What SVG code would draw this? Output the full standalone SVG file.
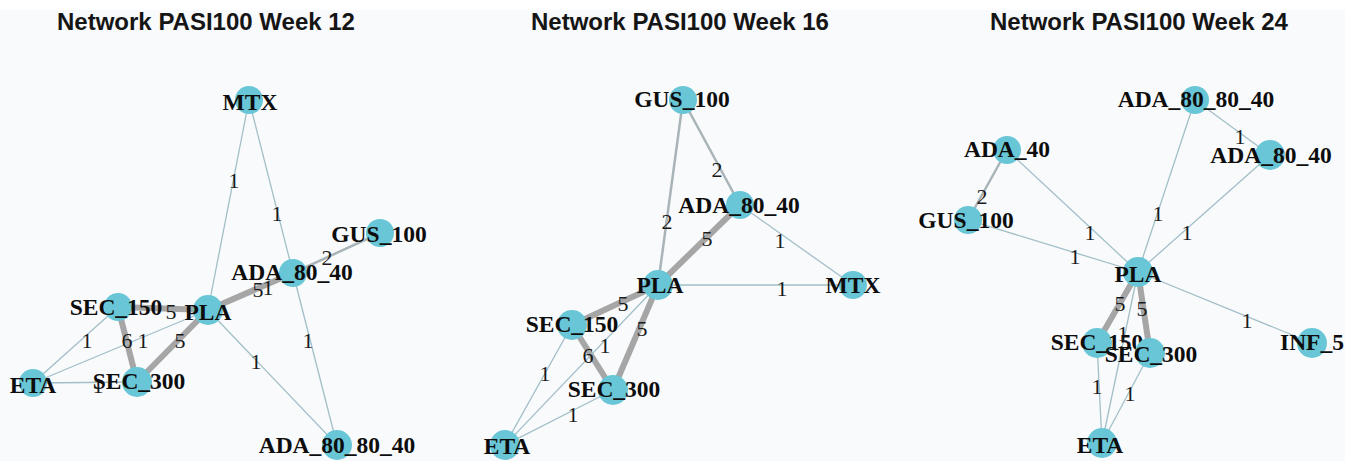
<svg xmlns="http://www.w3.org/2000/svg" width="1350" height="461" viewBox="0 0 1350 461">
<style>
.bg{fill:#f9fafc}
.t{font-family:"Liberation Sans",Arial,sans-serif;font-weight:bold;font-size:24px;fill:#151515;text-anchor:middle}
.n{fill:#69c6d6}
.nl{font-family:"Liberation Serif","Times New Roman",serif;font-weight:bold;font-size:23.5px;fill:#0d0d0d;text-anchor:middle}
.el{font-family:"Liberation Serif","Times New Roman",serif;font-size:22px;fill:#1a1a1a;text-anchor:middle}
.e1{stroke:#a2bfc8;stroke-width:1.3;fill:none}
.e2{stroke:#a9b4b8;stroke-width:2.5;fill:none}
.e5{stroke:#a6a6a6;stroke-width:6;fill:none}
</style>
<rect class="bg" x="0" y="10" width="1345" height="451"/>
<text class="t" x="206" y="30">Network PASI100 Week 12</text>
<text class="t" x="680" y="30">Network PASI100 Week 16</text>
<text class="t" x="1139" y="30">Network PASI100 Week 24</text>

<!-- connectors -->
<g id="connectors">
  <!-- week 12 -->
  <line class="e1" x1="249" y1="100" x2="208" y2="310"/>
  <line class="e1" x1="249" y1="100" x2="293" y2="273"/>
  <line class="e1" x1="293" y1="273" x2="337" y2="445"/>
  <line class="e1" x1="208" y1="310" x2="337" y2="445"/>
  <line class="e2" x1="293" y1="273" x2="380" y2="233"/>
  <line class="e5" x1="208" y1="310" x2="293" y2="273"/>
  <line class="e5" x1="118" y1="307" x2="208" y2="310"/>
  <line class="e5" x1="118" y1="307" x2="137" y2="382"/>
  <line class="e5" x1="208" y1="310" x2="137" y2="382"/>
  <line class="e1" x1="33" y1="383" x2="118" y2="307"/>
  <line class="e1" x1="33" y1="383" x2="208" y2="310"/>
  <line class="e1" x1="33" y1="383" x2="137" y2="382"/>
  <!-- week 16 -->
  <line class="e2" x1="683" y1="100" x2="658" y2="285"/>
  <line class="e2" x1="683" y1="100" x2="740" y2="205"/>
  <line class="e5" x1="740" y1="205" x2="658" y2="285"/>
  <line class="e1" x1="740" y1="205" x2="853" y2="285"/>
  <line class="e1" x1="658" y1="285" x2="853" y2="285"/>
  <line class="e5" x1="658" y1="285" x2="572" y2="325"/>
  <line class="e5" x1="658" y1="285" x2="613" y2="390"/>
  <line class="e5" x1="572" y1="325" x2="613" y2="390"/>
  <line class="e1" x1="658" y1="285" x2="505" y2="445"/>
  <line class="e1" x1="572" y1="325" x2="505" y2="445"/>
  <line class="e1" x1="613" y1="390" x2="505" y2="445"/>
  <!-- week 24 -->
  <line class="e1" x1="1195" y1="100" x2="1270" y2="155"/>
  <line class="e1" x1="1195" y1="100" x2="1138" y2="272"/>
  <line class="e1" x1="1270" y1="155" x2="1138" y2="272"/>
  <line class="e2" x1="1007" y1="150" x2="968" y2="220"/>
  <line class="e1" x1="1007" y1="150" x2="1138" y2="272"/>
  <line class="e1" x1="968" y1="220" x2="1138" y2="272"/>
  <line class="e1" x1="1138" y1="272" x2="1312" y2="343"/>
  <line class="e5" x1="1138" y1="272" x2="1097" y2="343"/>
  <line class="e5" x1="1138" y1="272" x2="1150" y2="353"/>
  <line class="e1" x1="1138" y1="272" x2="1102" y2="443"/>
  <line class="e1" x1="1097" y1="343" x2="1102" y2="443"/>
  <line class="e1" x1="1150" y1="353" x2="1102" y2="443"/>
</g>

<g id="edge-labels">
  <text class="el" x="234" y="188">1</text>
  <text class="el" x="277" y="221">1</text>
  <text class="el" x="308" y="348">1</text>
  <text class="el" x="256" y="369">1</text>
  <text class="el" x="327" y="265">2</text>
  <text class="el" x="258" y="297">5</text>
  <text class="el" x="268" y="295">1</text>
  <text class="el" x="171" y="319">5</text>
  <text class="el" x="87" y="348">1</text>
  <text class="el" x="127" y="348">6</text>
  <text class="el" x="143" y="348">1</text>
  <text class="el" x="180" y="348">5</text>
  <text class="el" x="98" y="393">1</text>

  <text class="el" x="667" y="229">2</text>
  <text class="el" x="717" y="177">2</text>
  <text class="el" x="707" y="246">5</text>
  <text class="el" x="780" y="248">1</text>
  <text class="el" x="782" y="296">1</text>
  <text class="el" x="623" y="311">5</text>
  <text class="el" x="642" y="336">5</text>
  <text class="el" x="588" y="363">6</text>
  <text class="el" x="605" y="353">1</text>
  <text class="el" x="545" y="381">1</text>
  <text class="el" x="573" y="422">1</text>

  <text class="el" x="1240" y="144">1</text>
  <text class="el" x="1158" y="221">1</text>
  <text class="el" x="1187" y="240">1</text>
  <text class="el" x="982" y="204">2</text>
  <text class="el" x="1090" y="240">1</text>
  <text class="el" x="1075" y="264">1</text>
  <text class="el" x="1247" y="328">1</text>
  <text class="el" x="1120" y="311">5</text>
  <text class="el" x="1142" y="316">5</text>
  <text class="el" x="1123" y="341">1</text>
  <text class="el" x="1097" y="394">1</text>
  <text class="el" x="1130" y="401">1</text>
</g>

<!-- week 12 nodes -->
<g id="w12-MTX"><circle class="n" cx="249" cy="100" r="14"/><text class="nl" x="250" y="110">MTX</text></g>
<g id="w12-GUS_100"><circle class="n" cx="380" cy="233" r="14"/><text class="nl" x="379" y="242">GUS_100</text></g>
<g id="w12-ADA_80_40"><circle class="n" cx="293" cy="273" r="14"/><text class="nl" x="292" y="280">ADA_80_40</text></g>
<g id="w12-PLA"><circle class="n" cx="208" cy="310" r="15"/><text class="nl" x="208" y="320">PLA</text></g>
<g id="w12-SEC_150"><circle class="n" cx="118" cy="307" r="14"/><text class="nl" x="116" y="315">SEC_150</text></g>
<g id="w12-ETA"><circle class="n" cx="33" cy="383" r="14"/><text class="nl" x="33" y="393">ETA</text></g>
<g id="w12-SEC_300"><circle class="n" cx="137" cy="382" r="15"/><text class="nl" x="139" y="389">SEC_300</text></g>
<g id="w12-ADA_80_80_40"><circle class="n" cx="337" cy="445" r="15"/><text class="nl" x="337" y="453">ADA_80_80_40</text></g>

<!-- week 16 nodes -->
<g id="w16-GUS_100"><circle class="n" cx="683" cy="100" r="14"/><text class="nl" x="682" y="107">GUS_100</text></g>
<g id="w16-ADA_80_40"><circle class="n" cx="740" cy="205" r="14"/><text class="nl" x="739" y="213">ADA_80_40</text></g>
<g id="w16-PLA"><circle class="n" cx="658" cy="285" r="15"/><text class="nl" x="660" y="293">PLA</text></g>
<g id="w16-MTX"><circle class="n" cx="853" cy="285" r="14"/><text class="nl" x="853" y="293">MTX</text></g>
<g id="w16-SEC_150"><circle class="n" cx="572" cy="325" r="15"/><text class="nl" x="572" y="332">SEC_150</text></g>
<g id="w16-SEC_300"><circle class="n" cx="613" cy="390" r="15"/><text class="nl" x="614" y="397">SEC_300</text></g>
<g id="w16-ETA"><circle class="n" cx="505" cy="445" r="15"/><text class="nl" x="507" y="454">ETA</text></g>

<!-- week 24 nodes -->
<g id="w24-ADA_80_80_40"><circle class="n" cx="1195" cy="100" r="14"/><text class="nl" x="1196" y="107">ADA_80_80_40</text></g>
<g id="w24-ADA_80_40"><circle class="n" cx="1270" cy="155" r="15"/><text class="nl" x="1271" y="163">ADA_80_40</text></g>
<g id="w24-ADA_40"><circle class="n" cx="1007" cy="150" r="14"/><text class="nl" x="1007" y="157">ADA_40</text></g>
<g id="w24-GUS_100"><circle class="n" cx="968" cy="220" r="14"/><text class="nl" x="966" y="228">GUS_100</text></g>
<g id="w24-PLA"><circle class="n" cx="1138" cy="272" r="15"/><text class="nl" x="1138" y="282">PLA</text></g>
<g id="w24-SEC_150"><circle class="n" cx="1097" cy="343" r="15"/><text class="nl" x="1097" y="350">SEC_150</text></g>
<g id="w24-SEC_300"><circle class="n" cx="1150" cy="353" r="15"/><text class="nl" x="1151" y="362">SEC_300</text></g>
<g id="w24-INF_5"><circle class="n" cx="1312" cy="343" r="15"/><text class="nl" x="1312" y="350">INF_5</text></g>
<g id="w24-ETA"><circle class="n" cx="1102" cy="443" r="15"/><text class="nl" x="1100" y="453">ETA</text></g>
</svg>
